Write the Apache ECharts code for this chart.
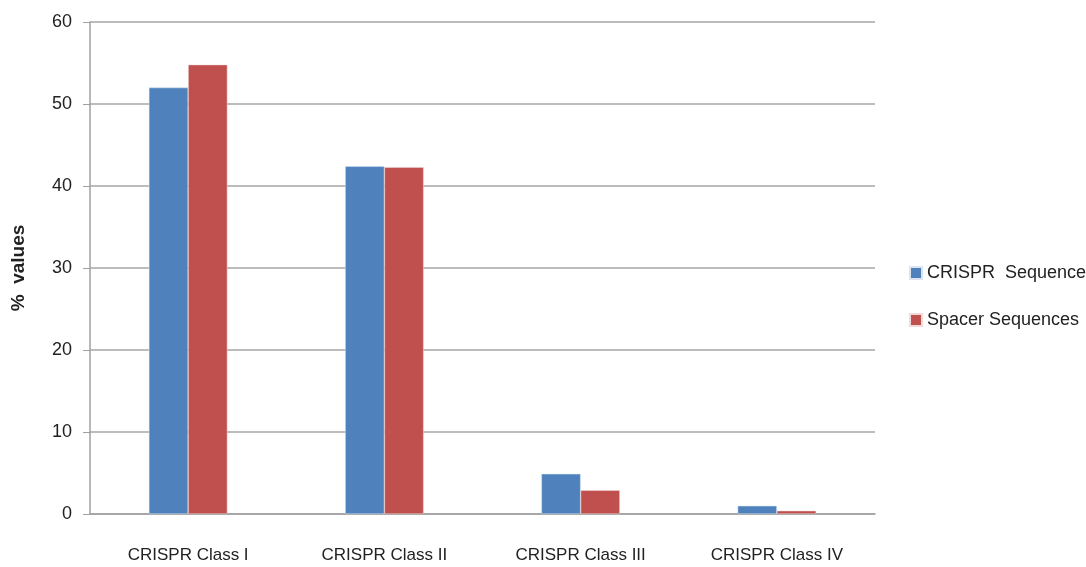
<!DOCTYPE html>
<html>
<head>
<meta charset="utf-8">
<script src="https://cdn.jsdelivr.net/npm/echarts@6/dist/echarts.min.js"></script>
<style>
  html, body { margin: 0; padding: 0; background: #fff; }
  #chart { width: 1086px; height: 567px; }
</style>
</head>
<body>
<div id="chart"></div>
<script>
var categories = ['CRISPR Class I', 'CRISPR Class II', 'CRISPR Class III', 'CRISPR Class IV'];
var crisprSeq = [52.0, 42.4, 4.9, 1.0];
var spacerSeq = [54.8, 42.3, 2.9, 0.4];
var seriesNames = ['CRISPR  Sequence', 'Spacer Sequences'];

var font = 'Liberation Sans, sans-serif';
var myChart = echarts.init(document.getElementById('chart'));

var option = {
    animation: false,
    grid: { left: 90, right: 211, top: 22, bottom: 53, containLabel: false, outerBoundsMode: 'none' },
    legend: {
        orient: 'vertical',
        left: 909,
        top: 264,
        padding: 0,
        itemWidth: 12,
        itemHeight: 12,
        itemGap: 29,
        icon: 'rect',
        textStyle: { fontFamily: font, fontSize: 18, color: '#222' },
        data: seriesNames
    },
    xAxis: {
        type: 'category',
        data: categories,
        axisLine: { lineStyle: { color: '#a0a0a0', width: 1.5 } },
        axisTick: { show: false },
        axisLabel: { fontFamily: font, fontSize: 17, color: '#222', margin: 33 }
    },
    yAxis: {
        type: 'value',
        min: 0,
        max: 60,
        interval: 10,
        name: '%  values',
        nameLocation: 'middle',
        nameGap: 62,
        nameTextStyle: { fontFamily: font, fontSize: 19, fontWeight: 'bold', color: '#222' },
        axisLine: { show: true, lineStyle: { color: '#a0a0a0', width: 1.5 } },
        axisTick: { show: true, inside: false, length: 7, lineStyle: { color: '#a0a0a0' } },
        axisLabel: { fontFamily: font, fontSize: 18, color: '#222', margin: 18 },
        splitLine: { lineStyle: { color: '#a6a6a6', width: 1.5 } }
    },
    series: [
        {
            name: seriesNames[0],
            type: 'bar',
            data: crisprSeq,
            barGap: '0%',
            barCategoryGap: '60%',
            itemStyle: { color: '#4f81bd', borderColor: '#dbe4f0', borderWidth: 0.5 }
        },
        {
            name: seriesNames[1],
            type: 'bar',
            data: spacerSeq,
            itemStyle: { color: '#c0504d', borderColor: '#f0dada', borderWidth: 0.5 }
        }
    ]
};
myChart.setOption(option);
</script>
</body>
</html>
